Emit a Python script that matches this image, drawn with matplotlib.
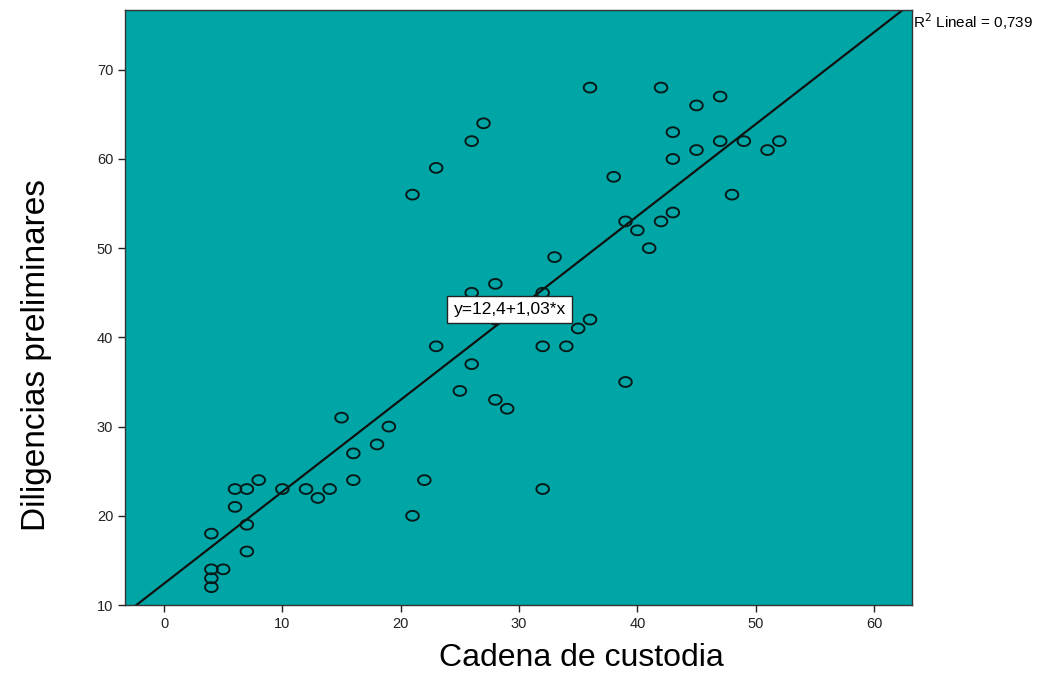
import numpy as np
import matplotlib
matplotlib.use("Agg")
import matplotlib.pyplot as plt
from matplotlib.path import Path

plt.rcParams['font.family'] = ['Liberation Sans', 'DejaVu Sans']

# data
cadena = [4, 4, 4, 4, 5, 6, 6, 7, 7, 7, 8, 10, 12, 13, 14, 15, 16, 16, 18, 19,
          21, 21, 22, 23, 23, 25, 26, 26, 26, 27, 28, 28, 28, 29, 32, 32, 32, 33,
          34, 35, 36, 36, 38, 39, 39, 40, 41, 42, 42, 43, 43, 43, 45, 45, 47, 47,
          48, 49, 51, 52]
diligencias = [18, 14, 13, 12, 14, 23, 21, 23, 19, 16, 24, 23, 23, 22, 23, 31, 27, 24, 28, 30,
               56, 20, 24, 59, 39, 34, 62, 45, 37, 64, 46, 42, 33, 32, 45, 39, 23, 49,
               39, 41, 68, 42, 58, 53, 35, 52, 50, 68, 53, 63, 60, 54, 66, 61, 67, 62,
               56, 62, 61, 62]

intercept = 12.4
slope = 1.03
r2 = 0.739

xticks = [0, 10, 20, 30, 40, 50, 60]
yticks = [10, 20, 30, 40, 50, 60, 70]

fig = plt.figure(figsize=(10.52, 6.75), dpi=100)
ax = fig.add_axes([0.1188, 0.1037, 0.748, 0.8815])
ax.set_facecolor('#00a6a6')

# slightly wide ellipse marker like SPSS
t = np.linspace(0, 2 * np.pi, 60)
ellipse = Path(np.column_stack([np.cos(t), 0.78 * np.sin(t)]), closed=True)

ax.scatter(cadena, diligencias, marker=ellipse, s=82, facecolors='none',
           edgecolors='#061a1a', linewidths=1.4, zorder=3)

xmin, xmax = -3.3, 63.2
ymin, ymax = 10, 76.7
xs = np.array([xmin, xmax])
ax.plot(xs, intercept + slope * xs, color='#111111', lw=1.6, zorder=2)

ax.set_xlim(xmin, xmax)
ax.set_ylim(ymin, ymax)
ax.set_xticks(xticks)
ax.set_yticks(yticks)
ax.tick_params(direction='out', length=5, width=1, labelsize=10.5, colors='#222222')
for s in ax.spines.values():
    s.set_color('#333333')
    s.set_linewidth(1)

ax.set_xlabel('Cadena de custodia', fontsize=23, va='center')
ax.xaxis.set_label_coords(0.58, -0.089)
ax.set_ylabel('Diligencias preliminares', fontsize=24, va='center')
ax.yaxis.set_label_coords(-0.112, 0.42)

ax.text(29.2, 43.1, 'y=12,4+1,03*x', fontsize=12.5, ha='center', va='center',
        bbox=dict(boxstyle='square,pad=0.35', fc='white', ec='#222222', lw=1), zorder=4)

fig.text(0.868, 0.968, 'R$^2$ Lineal = %s' % str(r2).replace('.', ','),
         fontsize=11, ha='left', va='center')

fig.savefig('out.png', dpi=100)
